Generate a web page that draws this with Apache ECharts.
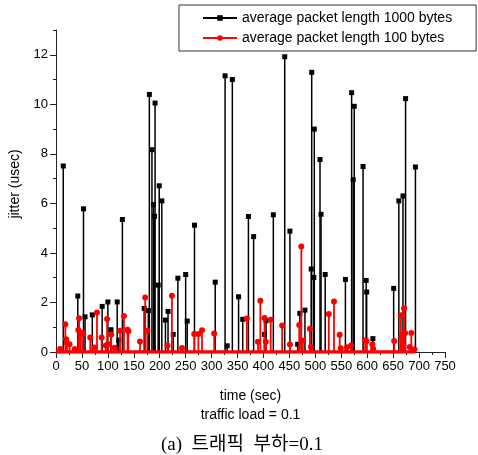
<!DOCTYPE html>
<html>
<head>
<meta charset="utf-8">
<script src="https://cdn.jsdelivr.net/npm/echarts@6/dist/echarts.min.js"></script>
<style>
html,body{margin:0;padding:0;background:#fff;}
#chart{width:478px;height:455px;}
</style>
</head>
<body>
<div id="chart"></div>
<script>
// ---- data ----
const name1000 = 'average packet length 1000 bytes';
const name100 = 'average packet length 100 bytes';

const time1000 = [14,42,53,56,70,89,100,106,118,121,128,170,178,180,185,188,190,191,197,199,204,211,216,226,235,250,253,267,307,326,330,340,352,360,371,381,402,405,419,441,451,466,470,480,492,493,497,498,509,511,519,558,570,573,575,592,598,599,611,651,661,669,674,693];
const jitter1000 = [7.51,2.26,5.78,1.42,1.5,1.84,2.02,0.9,2.02,0.48,5.35,1.76,1.67,10.4,8.17,5.95,5.48,10.05,2.7,6.71,6.1,1.29,1.64,0.71,2.98,3.13,1.25,5.12,2.82,11.15,0.25,11.0,2.23,1.32,5.47,4.66,0.71,1.26,5.54,11.92,4.88,0.31,1.56,1.69,3.35,11.29,3.01,9.0,7.77,5.56,3.13,2.93,10.47,6.96,9.92,7.49,2.89,2.42,0.54,2.57,6.1,6.3,10.23,7.47];

const time100 = [8,18,19.5,21,26,36,43,44.5,48,52,66,74.5,79,88,96,98.5,100.5,106.5,113,123.5,131,138,139.5,162,172,176,215,223.5,243,266.5,274.5,281.5,305,368,389.5,394,402,404.5,414,436,451,469,473,476,489.5,491.5,526,536,547,549,561,569,596,599,610,611.5,652,665,666,668,671,673,682,685,691];
const jitter100 = [0.12,1.12,0.51,0.36,0.31,0.12,0.89,1.36,0.79,0.75,0.59,0.18,1.59,0.59,0.26,1.33,0.32,0.71,0.17,0.86,1.45,0.9,0.84,0.42,2.2,0.86,0.26,2.27,0.16,0.73,0.73,0.88,0.75,1.35,0.41,2.07,1.37,0.41,1.3,1.07,0.3,1.09,4.26,0.46,0.94,0.2,1.53,2.04,0.7,0.15,0.19,0.26,0.47,0.44,0.3,0.13,0.44,1.48,0.66,0.71,1.77,0.77,0.2,0.77,0.11];

const baselineTime = [0, 692];
const baselineJitter = [0, 0];

const xTicks = [0,50,100,150,200,250,300,350,400,450,500,550,600,650,700,750];
const yMajor = [0,2,4,6,8,10,12];
const yMinor = [1,3,5,7,9,11,13];

// ---- build ----
const zip = (a, b) => a.map((v, i) => [v, b[i]]);

function stemRenderer(color, lw, shape, size) {
  return function (params, api) {
    const x = api.value(0), y = api.value(1);
    const p0 = api.coord([x, 0]);
    const p1 = api.coord([x, y]);
    const marker = shape === 'rect'
      ? {type: 'rect', shape: {x: p1[0] - size / 2, y: p1[1] - size / 2, width: size, height: size}, style: {fill: color}}
      : {type: 'circle', shape: {cx: p1[0], cy: p1[1], r: size / 2}, style: {fill: color}};
    return {
      type: 'group',
      children: [
        {type: 'line', shape: {x1: p0[0], y1: p0[1], x2: p1[0], y2: p1[1]}, style: {stroke: color, lineWidth: lw}},
        marker
      ]
    };
  };
}

const tickFont = {fontFamily: 'Liberation Sans, Arial', fontSize: 13, color: '#000'};
const axisColor = '#222';

const chart = echarts.init(document.getElementById('chart'), null, {renderer: 'canvas'});
chart.setOption({
  animation: false,
  backgroundColor: '#fff',
  grid: {left: 56, right: 33, top: 30, bottom: 103, containLabel: false},
  legend: {
    data: [name1000, name100],
    orient: 'vertical',
    left: 179, top: 5,
    padding: [6, 24, 6, 23],
    itemWidth: 34, itemHeight: 7, itemGap: 6,
    borderColor: '#333', borderWidth: 1,
    backgroundColor: '#fff',
    textStyle: {fontFamily: 'Liberation Sans, Arial', fontSize: 14, color: '#000'}
  },
  xAxis: {
    type: 'value', min: 0, max: 750, interval: 50,
    name: 'time (sec)\ntraffic load = 0.1',
    nameLocation: 'middle', nameGap: 35,
    nameTextStyle: {fontFamily: 'Liberation Sans, Arial', fontSize: 14, color: '#000', lineHeight: 19},
    axisLine: {show: true, onZero: false, lineStyle: {color: axisColor, width: 1}},
    axisTick: {show: true, length: 6, lineStyle: {color: axisColor}},
    minorTick: {show: true, splitNumber: 2, length: 3, lineStyle: {color: axisColor}},
    splitLine: {show: false},
    axisLabel: Object.assign({margin: 8, customValues: xTicks}, tickFont)
  },
  yAxis: [
    {
      type: 'value', min: 0, max: 13, position: 'left',
      name: 'jitter (usec)', nameLocation: 'middle', nameGap: 30, nameRotate: 90,
      nameTextStyle: {fontFamily: 'Liberation Sans, Arial', fontSize: 14, color: '#000', padding: [0, 0, 0, 14]},
      axisLine: {show: true, onZero: false, lineStyle: {color: axisColor, width: 1}},
      axisTick: {show: true, length: 6, customValues: yMajor, lineStyle: {color: axisColor}},
      axisLabel: Object.assign({margin: 8, customValues: yMajor}, tickFont),
      splitLine: {show: false}
    },
    {
      type: 'value', min: 0, max: 13, position: 'left', offset: 0,
      axisLine: {show: false},
      axisTick: {show: true, length: 3, customValues: yMinor, lineStyle: {color: axisColor}},
      axisLabel: {show: false},
      splitLine: {show: false}
    }
  ],
  graphic: [{
    type: 'text', x: 242, y: 445,
    style: {
      text: '(a)  트래픽  부하=0.1',
      font: '19px "Liberation Serif", "Noto Sans CJK KR", serif',
      fill: '#000', align: 'center', verticalAlign: 'middle'
    }
  }],
  series: [
    {
      type: 'custom', name: 'stems1000', yAxisIndex: 0, z: 2,
      data: zip(time1000, jitter1000),
      renderItem: stemRenderer('#000', 1.5, 'rect', 5)
    },
    {
      type: 'custom', name: 'stems100', yAxisIndex: 0, z: 3,
      data: zip(time100, jitter100),
      renderItem: stemRenderer('#ff0000', 1.8, 'circle', 6)
    },
    {
      type: 'line', name: 'baseline100', yAxisIndex: 0, z: 4,
      data: zip(baselineTime, baselineJitter),
      symbol: 'none', lineStyle: {color: '#ff0000', width: 3.5},
      silent: true
    },
    {
      type: 'line', name: name1000, data: [], yAxisIndex: 0,
      symbol: 'rect', symbolSize: 6,
      itemStyle: {color: '#000'}, lineStyle: {color: '#000', width: 1.2}
    },
    {
      type: 'line', name: name100, data: [], yAxisIndex: 0,
      symbol: 'circle', symbolSize: 7,
      itemStyle: {color: '#ff0000'}, lineStyle: {color: '#ff0000', width: 1.2}
    }
  ]
});
</script>
</body>
</html>
